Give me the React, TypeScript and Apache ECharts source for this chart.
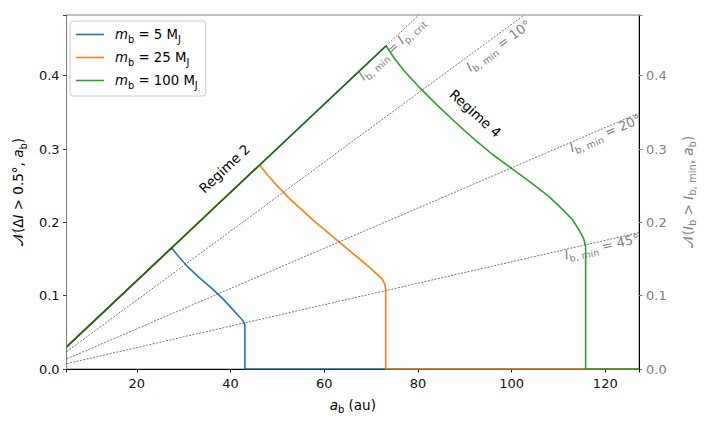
import React, { useEffect, useRef } from "react";
import * as echarts from "echarts";

// ---- axis extents ----
const X_MIN = 5;
const X_MAX = 127.2;
const Y_MIN = 0;
const Y_MAX = 0.4828;
const yTickValues = [0, 0.1, 0.2, 0.3, 0.4];
const xTickValues = [20, 40, 60, 80, 100, 120];

// ---- series values ----
// each curve: start, peak (regime-2 edge), curved part, vertical drop, zero tail
const blueX = [5, 27.42, 29.0, 31.0, 33.5, 36.0, 38.5, 40.5, 41.8, 42.6, 43.0, 43.07, 43.07, 127.2];
const blueY = [0.0301, 0.1651, 0.1527, 0.1385, 0.1237, 0.11, 0.095, 0.081, 0.072, 0.0665, 0.062, 0.0577, 0, 0];

const orangeX = [5, 46.17, 48.0, 50.0, 52.5, 55.0, 58.0, 61.0, 64.0, 67.0, 69.5, 71.3, 72.4, 72.95, 73.13, 73.13, 127.2];
const orangeY = [0.0301, 0.2783, 0.264, 0.2495, 0.233, 0.2183, 0.201, 0.185, 0.169, 0.1528, 0.1395, 0.129, 0.1225, 0.1155, 0.108, 0, 0];

const greenX = [5, 73.2, 75.0, 77.0, 80.0, 84.0, 88.0, 92.0, 96.0, 100.0, 104.0, 108.0, 111.0, 113.0, 114.5, 115.4, 115.81, 115.81, 127.2];
const greenY = [0.0301, 0.4407, 0.4235, 0.407, 0.3862, 0.3605, 0.3365, 0.3135, 0.2922, 0.2737, 0.255, 0.235, 0.217, 0.2035, 0.1885, 0.1775, 0.1669, 0, 0];

// reference lines (end points)
const ipCritX = [5, 73.2, 80.2];
const ipCritY = [0.0301, 0.4407, 0.4828];
const deg10X = [5, 102.7];
const deg10Y = [0.0235, 0.4828];
const deg20X = [5, 127.2];
const deg20Y = [0.0137, 0.349];
const deg45X = [5, 127.2];
const deg45Y = [0.0073, 0.186];

const seriesNames = ["m5", "m25", "m100"];
const legendMasses = ["5", "25", "100"];

const FONT = "DejaVu Sans";

function pairs(xs: number[], ys: number[]) {
  return xs.map((x, i) => [x, ys[i]]);
}

function makeRich(color: string, size: number) {
  const lh = Math.round(size * 1.45);
  return {
    i: { fontStyle: "italic", fontSize: size, lineHeight: lh, fontFamily: FONT, color },
    n: { fontSize: size, lineHeight: lh, fontFamily: FONT, color },
    s: { fontSize: size * 0.74, lineHeight: Math.round(size * 0.85), fontFamily: FONT, color, verticalAlign: "bottom" },
  };
}

export default function App() {
  const ref = useRef<HTMLDivElement>(null);

  useEffect(() => {
    if (!ref.current) return;
    const chart = echarts.init(ref.current, undefined, { renderer: "svg" });

    const black = "#000000";
    const gray = "#808080";
    const richBlack = makeRich(black, 13.3);
    const richAxis = makeRich(black, 13.5);
    const richAxisGray = makeRich(gray, 13.5);
    const richLabel = makeRich(gray, 13);

    const dashStyle = { color: "#3a3a3a", width: 0.7, type: [2, 1.4] as any };

    const refSeries = (name: string, xs: number[], ys: number[], lineStyle: any = dashStyle) => ({
      name,
      type: "line",
      data: pairs(xs, ys),
      showSymbol: false,
      symbol: "none",
      lineStyle,
      z: 5,
      silent: true,
    });

    const curveSeries = (name: string, xs: number[], ys: number[], color: string) => ({
      name,
      type: "line",
      data: pairs(xs, ys),
      showSymbol: false,
      symbol: "none",
      color,
      lineStyle: { color, width: 1.6, join: "round" },
      z: 3,
    });

    const yAxisCommon = {
      type: "value",
      min: Y_MIN,
      max: Y_MAX,
      interval: 0.1,
      splitLine: { show: false },
    };

    const fmtY = (v: number) => (yTickValues.some((t) => Math.abs(t - v) < 1e-6) ? v.toFixed(1) : "");

    chart.setOption({
      animation: false,
      textStyle: { fontFamily: FONT },
      grid: {
        left: 63.4,
        right: 67,
        top: 15,
        bottom: 55,
        show: true,
        borderColor: gray,
        borderWidth: 1,
        backgroundColor: "transparent",
      },
      legend: {
        data: seriesNames,
        orient: "vertical",
        left: 70,
        top: 21,
        padding: [4, 8, 6, 6],
        itemGap: 4,
        itemWidth: 28,
        itemHeight: 1.6,
        icon: "rect",
        backgroundColor: "rgba(255,255,255,0.85)",
        borderColor: "#cccccc",
        borderWidth: 1,
        borderRadius: 3,
        formatter: (name: string) => {
          const m = legendMasses[seriesNames.indexOf(name)];
          return `{i|m}{s|b}{n| = ${m} M}{s|J}`;
        },
        textStyle: { padding: [0, 0, 0, 6], rich: richBlack, fontSize: 13.3, lineHeight: 19, color: black },
      },
      xAxis: {
        type: "value",
        min: X_MIN,
        max: X_MAX,
        splitLine: { show: false },
        axisLine: { show: true, lineStyle: { color: black, width: 1 } },
        axisTick: { show: true, length: 3.5, lineStyle: { color: black } },
        axisLabel: {
          color: "#111",
          fontSize: 13,
          margin: 8,
          fontFamily: FONT,
          formatter: (v: number) => (xTickValues.some((t) => Math.abs(t - v) < 1e-6) ? String(v) : ""),
        },
        name: "{i|a}{s|b}{n| (au)}",
        nameLocation: "middle",
        nameGap: 23,
        nameTextStyle: { rich: richAxis, fontSize: 13.5, lineHeight: 20, color: black },
      },
      yAxis: [
        {
          ...yAxisCommon,
          position: "left",
          axisLine: { show: true, lineStyle: { color: gray, width: 1 } },
          axisTick: { show: true, length: 3.5, lineStyle: { color: "#333" } },
          axisLabel: { color: "#111", fontSize: 13, margin: 7, fontFamily: FONT, formatter: fmtY },
          name: "{n|𝒩(Δ}{i|I}{n| > 0.5°, }{i|a}{s|b}{n|)}",
          nameLocation: "middle",
          nameRotate: 90,
          nameGap: 25,
          nameTextStyle: { rich: richAxis, fontSize: 13.5, lineHeight: 20, color: black },
        },
        {
          ...yAxisCommon,
          position: "right",
          axisLine: { show: true, lineStyle: { color: black, width: 1 } },
          axisTick: { show: true, length: 3.5, lineStyle: { color: gray } },
          axisLabel: { color: gray, fontSize: 13, margin: 7, fontFamily: FONT, formatter: fmtY },
          name: "{n|𝒩(}{i|I}{s|b}{n| > }{i|I}{s|b, min}{n|, }{i|a}{s|b}{n|)}",
          nameLocation: "middle",
          nameRotate: 90,
          nameGap: 26,
          nameTextStyle: { rich: richAxisGray, fontSize: 13.5, lineHeight: 20, color: gray },
        },
      ],
      series: [
        curveSeries("m5", blueX, blueY, "#1f77b4"),
        curveSeries("m25", orangeX, orangeY, "#ff7f0e"),
        curveSeries("m100", greenX, greenY, "#2ca02c"),
        refSeries("ipcritA", ipCritX.slice(0, 2), ipCritY.slice(0, 2), { color: "rgba(0,0,0,0.36)", width: 1.6, type: "solid" }),
        refSeries("ipcritB", ipCritX.slice(1), ipCritY.slice(1)),
        refSeries("deg10", deg10X, deg10Y),
        refSeries("deg20", deg20X, deg20Y),
        refSeries("deg45", deg45X, deg45Y),
      ],
    });

    const toPx = (x: number, y: number) => chart.convertToPixel({ gridIndex: 0 }, [x, y]) as number[];
    const angleOf = (xs: number[], ys: number[]) => {
      const a = toPx(xs[0], ys[0]);
      const b = toPx(xs[xs.length - 1], ys[ys.length - 1]);
      return Math.atan2(-(b[1] - a[1]), b[0] - a[0]);
    };

    const annotations = [
      { x: 38.67, y: 0.2735, text: "Regime 2", rich: richBlack, angle: angleOf(ipCritX, ipCritY), color: black, size: 13.5 },
      { x: 92.3, y: 0.3488, text: "Regime 4", rich: richBlack, angle: (-42 * Math.PI) / 180, color: black, size: 13.5 },
      { x: 74.4, y: 0.437, text: "{i|I}{s|b, min}{n| = }{i|I}{s|p, crit}", rich: richLabel, angle: angleOf(ipCritX, ipCritY), color: gray, size: 13 },
      { x: 97.2, y: 0.441, text: "{i|I}{s|b, min}{n| = 10°}", rich: richLabel, angle: angleOf(deg10X, deg10Y), color: gray, size: 13 },
      { x: 120, y: 0.3215, text: "{i|I}{s|b, min}{n| = 20°}", rich: richLabel, angle: angleOf(deg20X, deg20Y), color: gray, size: 13 },
      { x: 119.3, y: 0.1669, text: "{i|I}{s|b, min}{n| = 45°}", rich: richLabel, angle: angleOf(deg45X, deg45Y), color: gray, size: 13 },
    ];

    chart.setOption({
      graphic: annotations.map((a) => {
        const p = toPx(a.x, a.y);
        return {
          type: "text",
          x: p[0],
          y: p[1],
          rotation: a.angle,
          z: 10,
          silent: true,
          style: {
            text: a.text,
            rich: a.rich,
            fill: a.color,
            fontSize: a.size,
            fontFamily: FONT,
            align: "center",
            verticalAlign: "middle",
          },
        };
      }),
    });

    return () => chart.dispose();
  }, []);

  return (
    <div
      ref={ref}
      style={{ position: "fixed", left: 0, top: 0, width: 706, height: 424, background: "#fff" }}
    />
  );
}
